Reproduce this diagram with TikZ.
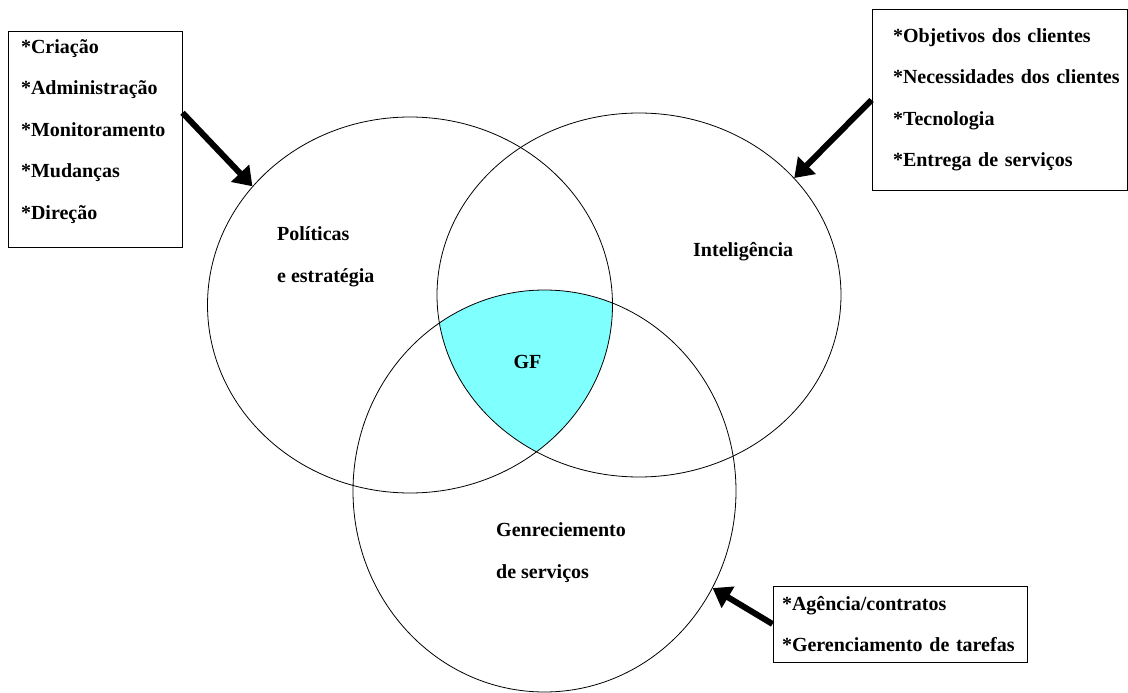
\documentclass[tikz,border=0pt]{standalone}
\usepackage{fontspec}
\setmainfont{Liberation Serif}
\usetikzlibrary{shapes.geometric,arrows.meta}
\definecolor{gfcyan}{RGB}{128,255,255}

\begin{document}
\begin{tikzpicture}[x=1pt, y=-1pt,
	area/.style = {ellipse, draw, line width=0.8pt, inner sep=0pt},
	lbl/.style = {font=\fontsize{20}{41.5}\selectfont\bfseries, align=left, inner sep=0pt},
	box/.style = {rectangle, draw, line width=1pt, align=left,
		font=\fontsize{20}{41.5}\selectfont\bfseries}]
	\tikzset{edge/.style = {line width=6pt, -{Triangle[length=18pt, width=24pt]}}}
	\useasboundingbox (0,0) rectangle (1128,693);
	
	% GF = intersecao dos tres
	\begin{scope}
		\clip (410,305) ellipse [x radius=202.5pt, y radius=188pt];
		\clip (639,295) ellipse [x radius=202pt, y radius=182pt];
		\fill[gfcyan] (544.5,491) ellipse [x radius=191.5pt, y radius=201pt];
	\end{scope}
	
		\node[area, minimum width=405pt, minimum height=376pt] (pol) at (410,305) {};
		\node[area, minimum width=404pt, minimum height=364pt] (int) at (639,295) {};
		\node[area, minimum width=383pt, minimum height=402pt] (gen) at (544.5,491) {};
		
		\node[lbl, anchor=base west] (polt) at (277,282) {Políticas\\e estratégia};
		\node[lbl, anchor=base west] (intt) at (693,256) {Inteligência};
		\node[lbl, anchor=base] (gf) at (527.5,368) {GF};
		\node[lbl, anchor=base west] (gent) at (496,578) {Genreciemento\\de serviços};
		
		\node[box, text width=148pt, inner xsep=13pt, minimum height=215pt] (cri) at (95,139.5)
			{*Criação\\{}*Administração\\{}*Monitoramento\\{}*Mudanças\\{}*Direção\rule[-20pt]{0pt}{20pt}};
		\node[box, text width=213pt, inner xsep=21pt, minimum height=180pt] (obj) at (999.5,100)
			{*Objetivos dos clientes\\\mbox{*Necessidades dos clientes}\\{}*Tecnologia\\{}*Entrega de serviços};
		\node[box, text width=236pt, inner xsep=9pt, minimum height=76pt] (age) at (900,624)
			{*Agência/contratos\\{}*Gerenciamento de tarefas};
		
		\draw[edge] (cri.17) -- (pol.143);
		\draw[edge] (obj.west) -- (int.37);
		\draw[edge] (age.west) -- (gen.-30);
	\end{tikzpicture}
\end{document}
